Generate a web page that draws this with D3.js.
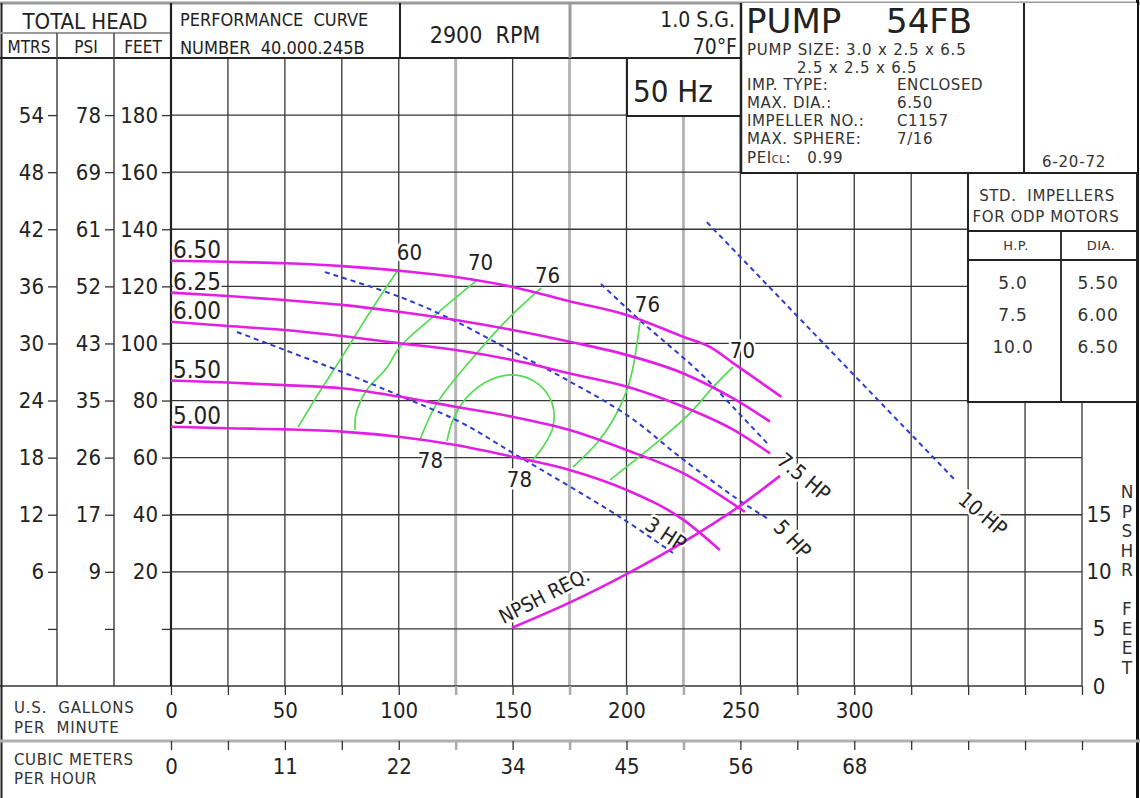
<!DOCTYPE html>
<html>
<head>
<meta charset="utf-8">
<script src="https://cdn.jsdelivr.net/npm/d3@7/dist/d3.min.js"></script>
<style>
html,body{margin:0;padding:0;background:#fff;}
svg{display:block;}
text{white-space:pre;}
</style>
</head>
<body>
<svg id="chart" width="1140" height="798"></svg>
<script>
// ---------- tick labels ----------
const gpmTicks   = [0, 50, 100, 150, 200, 250, 300];
const cmhLabels  = ["0", "11", "22", "34", "45", "56", "68"];
const feetTicks  = [20, 40, 60, 80, 100, 120, 140, 160, 180];
const mtrsLabels = ["6", "12", "18", "24", "30", "36", "42", "48", "54"];
const psiLabels  = ["9", "17", "26", "35", "43", "52", "61", "69", "78"];
const npshTicks  = [0, 5, 10, 15];

// ---------- impeller head curves [gpm, feet] ----------
const impNames = ["6.50", "6.25", "6.00", "5.50", "5.00"];
const imp650 = [[0,129],[25,128.6],[50,128.1],[75,127.1],[100,125.5],[125,123.3],[150,119.8],[175,114.8],[200,110],[225,102.3],[237,98.6],[247,93],[268,81.3]];
const imp625 = [[0,117.8],[25,116.6],[50,115.2],[75,113.5],[100,111.1],[125,108.2],[150,104.7],[175,100.6],[200,96],[225,89.5],[248,80.2],[263,72.6]];
const imp600 = [[0,107.6],[25,106.1],[50,104.7],[75,102.6],[100,100.1],[125,97.7],[150,94.2],[175,89.5],[200,84.9],[225,77.8],[247,69.7],[263,61.5]];
const imp550 = [[0,87],[25,86.3],[50,85.4],[75,84.3],[100,81.4],[125,77.8],[150,74.3],[175,69.7],[200,62.7],[225,54.5],[252,41]];
const imp500 = [[0,70.8],[25,70.3],[50,69.9],[75,69.1],[100,67.3],[125,64.4],[150,60.3],[175,55.7],[200,48.7],[225,38.2],[241,27.6]];

// ---------- efficiency contours [gpm, feet] ----------
const eff60  = [[55.8,70.7],[63.8,81.2],[75.1,95.3],[88.8,112.8],[99.1,125]];
const eff70a = [[80.8,69.7],[81.3,75.5],[85.9,83.6],[94.6,91.3],[100.5,98.8],[115,109.3],[134.4,122.2]];
const eff76a = [[109.3,66.2],[116.8,79.1],[134.4,96.7],[148.8,109.3],[162.5,119.4]];
const eff78  = [[121.2,65.8],[123.8,73.2],[130,81.2],[140.1,87.2],[150.2,89],[160.7,86.1],[167.3,79.1],[167.7,70.7],[163.3,63.7],[158.9,59.2]];
const eff76b = [[205.9,107.5],[202.9,91.8],[200.2,83.7],[194.1,73.2],[187,65.1],[176.5,56.7]];
const eff70b = [[246.8,91.8],[238,84.7],[227.9,75.6],[214.7,66.2],[192.8,52.2]];
const effLabels = [
  {t:"60", gpm:104.7, ft:129.2}, {t:"70", gpm:135.9, ft:125.7}, {t:"76", gpm:165.3, ft:121.2},
  {t:"76", gpm:209.2, ft:111.0}, {t:"70", gpm:250.9, ft:94.9},
  {t:"78", gpm:113.9, ft:56.4},  {t:"78", gpm:153.0, ft:49.7}
];

// ---------- horsepower lines [gpm, feet] ----------
const hp3  = [[29,104],[75.1,90],[101.9,81.2],[126.9,72.5],[150.2,61.6],[197.1,39.2],[220.4,26.6]];
const hp5  = [[67.6,125],[100.5,116.3],[123.8,108.2],[148.8,97.7],[173.9,87.2],[201.5,74.2],[223.5,60.2],[251.2,44.1],[263,38.2]];
const hp75 = [[188.8,120.8],[207.2,107.2],[232.3,89.7],[246.8,77.7],[261.7,65.1]];
const hp10 = [[235.3,142.5],[289.3,97.7],[344.2,52.2]];
const hpLabels = [
  {t:"3 HP",   gpm:216.9, ft:32.9, a:33},
  {t:"5 HP",   gpm:272.5, ft:31.1, a:47},
  {t:"7.5 HP", gpm:277.5, ft:52.9, a:40},
  {t:"10 HP",  gpm:356.1, ft:39.9, a:40}
];

// ---------- NPSH required [gpm, npsh feet] ----------
const npshReq = [[149.7,5.1],[175,7.3],[200,9.8],[225,12.6],[250,15.8],[267.4,18.4]];

// ---------- header / table text ----------
const pumpInfoLabels = ["IMP. TYPE:", "MAX. DIA.:", "IMPELLER NO.:", "MAX. SPHERE:"];
const pumpInfoValues = ["ENCLOSED", "6.50", "C1157", "7/16"];
const stdHP  = ["5.0", "7.5", "10.0"];
const stdDia = ["5.50", "6.00", "6.50"];

// =====================================================
const COND = '"DejaVu Sans Condensed","DejaVu Sans",sans-serif';
const WIDE = '"DejaVu Sans",sans-serif';
const INK = "#222";
const MAG = "#e21fe2", GRN = "#52dc52", BLU = "#2b3ccf";

const svg = d3.select("#chart");
svg.append("rect").attr("width",1140).attr("height",798).attr("fill","#fff");

const x  = d3.scaleLinear().domain([0,400]).range([171,1082]);
const y  = d3.scaleLinear().domain([-20,200]).range([686,58]);
const yN = d3.scaleLinear().domain([0,20]).range([686,457.6]);

function ln(g,x1,y1,x2,y2,col,w){
  return g.append("line").attr("x1",x1).attr("y1",y1).attr("x2",x2).attr("y2",y2)
    .attr("stroke",col).attr("stroke-width",w);
}
function txt(g,s,xx,yy,size,opt={}){
  const t = g.append("text").attr("x",xx).attr("y",yy).text(s)
    .attr("font-family",opt.fam||COND).attr("font-size",size).attr("fill",opt.fill||INK)
    .attr("text-anchor",opt.anchor||"start").attr("xml:space","preserve");
  if(opt.ls) t.attr("letter-spacing",opt.ls);
  return t;
}

// ---------- grid ----------
const grid = svg.append("g");
const heavy = [125,175,225];
d3.range(25,401,25).forEach(g=>{
  const px = x(g);
  const top = px < 745 ? y(200) : (px < 960 ? y(160) : y(80));
  const hv = heavy.includes(g);
  ln(grid,px,top,px,y(-20),hv?"#b5b5b5":"#363636",hv?3:1.3);
});
d3.range(-20,200,20).forEach(f=>{
  const py = y(f);
  const right = f>=180 ? x(250) : (f>=100 ? x(350) : x(400));
  const left = f===-20 ? 0 : x(0);
  ln(grid,left,py,right,py,"#363636",f===-20?1.6:1.3);
});

// ---------- frame ----------
const fr = svg.append("g");
ln(fr,0,3,1140,3,"#9a9a9a",3);
ln(fr,1.5,3,1.5,798,"#222",2);
ln(fr,1137.5,0,1137.5,798,"#111",3);
ln(fr,0,33,171,33,"#9a9a9a",2);
ln(fr,0,58,741,58,"#222",1.8);
ln(fr,57,33,57,686,"#444",1.5);
ln(fr,114,33,114,686,"#444",1.5);
ln(fr,171,3,171,686,"#222",2.2);
ln(fr,400,3,400,58,"#222",2);
ln(fr,570,3,570,58,"#9a9a9a",3);
ln(fr,0,741,1140,741,"#b0b0b0",3);
fr.append("rect").attr("x",627).attr("y",58).attr("width",114).attr("height",58)
  .attr("fill","#fff").attr("stroke","#222").attr("stroke-width",2);
fr.append("rect").attr("x",741).attr("y",3).attr("width",396).attr("height",170)
  .attr("fill","#fff").attr("stroke","none");
ln(fr,741,3,741,173,"#222",2.5);
ln(fr,1024,3,1024,173,"#222",2);
ln(fr,741,173,1137,173,"#222",2);
fr.append("rect").attr("x",968).attr("y",173).attr("width",169).attr("height",229)
  .attr("fill","#fff").attr("stroke","#222").attr("stroke-width",2);
ln(fr,968,231,1137,231,"#222",1.8);
ln(fr,968,260,1137,260,"#222",1.8);
ln(fr,1061,231,1061,402,"#222",1.8);

// ---------- axes ----------
function styleAxis(g,size){
  g.select(".domain").remove();
  g.selectAll("text").attr("font-family",COND).attr("font-size",size).attr("fill",INK);
  g.selectAll("line").attr("stroke","#333").attr("stroke-width",1.3);
}
const leftVals = [0,...feetTicks];
[[57,mtrsLabels],[114,psiLabels],[171,feetTicks.map(String)]].forEach(([xp,labs])=>{
  const ax = d3.axisLeft(y).tickValues(leftVals).tickSize(9).tickPadding(4)
    .tickFormat((d,i)=> i===0 ? "" : labs[i-1]);
  const g = svg.append("g").attr("transform",`translate(${xp},0)`).call(ax);
  styleAxis(g,22);
});
const bottomVals = d3.range(0,401,25);
const axG = d3.axisBottom(x).tickValues(bottomVals).tickSize(9).tickPadding(7)
  .tickFormat(d=> gpmTicks.includes(d) ? String(d) : "");
const gG = svg.append("g").attr("transform","translate(0,686)").call(axG);
styleAxis(gG,22);
const axC = d3.axisBottom(x).tickValues(bottomVals).tickSize(9).tickPadding(8)
  .tickFormat(d=> { const i = gpmTicks.indexOf(d); return i>=0 ? cmhLabels[i] : ""; });
const gC = svg.append("g").attr("transform","translate(0,741)").call(axC);
styleAxis(gC,22);
[gG,gC].forEach(g=> g.selectAll(".tick").filter(d=>heavy.includes(d))
  .select("line").attr("stroke","#aaa").attr("stroke-width",2.5));

const axN = d3.axisRight(yN).tickValues(npshTicks).tickSize(0).tickPadding(17)
  .tickFormat(d=>String(d));
const gN = svg.append("g").attr("transform",`translate(${x(400)},0)`).call(axN);
styleAxis(gN,22);
gN.selectAll("text").attr("text-anchor","middle");

// ---------- header texts ----------
const tx = svg.append("g");
txt(tx,"TOTAL HEAD",85,29,22,{anchor:"middle"});
txt(tx,"MTRS",29,53,17,{anchor:"middle"});
txt(tx,"PSI",86,53,17,{anchor:"middle"});
txt(tx,"FEET",143,53,17,{anchor:"middle"});
txt(tx,"PERFORMANCE  CURVE",180,26,18);
txt(tx,"NUMBER  40.000.245B",180,54,18);
txt(tx,"2900  RPM",485,43,23,{anchor:"middle"});
txt(tx,"1.0 S.G.",735,27,21,{anchor:"end"});
txt(tx,"70°F",737,54,21,{anchor:"end"});
txt(tx,"50 Hz",633,102,31);
txt(tx,"PUMP",746,33,34,{fam:WIDE});
txt(tx,"54FB",886,33,34,{fam:WIDE});
txt(tx,"PUMP SIZE: 3.0 x 2.5 x 6.5",747,55,15,{fam:WIDE,ls:0.8,fill:"#333"});
txt(tx,"2.5 x 2.5 x 6.5",797,73,15,{fam:WIDE,ls:0.8,fill:"#333"});
pumpInfoLabels.forEach((s,i)=>{
  txt(tx,s,747,90+i*18,15,{fam:WIDE,ls:0.6,fill:"#333"});
  txt(tx,pumpInfoValues[i],897,90+i*18,15,{fam:WIDE,ls:0.6,fill:"#333"});
});
const pei = txt(tx,"PEI",747,163,15,{fam:WIDE,ls:0.6,fill:"#333"});
pei.append("tspan").attr("font-size",10).text("CL");
pei.append("tspan").text(":   0.99");
txt(tx,"6-20-72",1074,167,15,{fam:WIDE,ls:0.8,fill:"#333",anchor:"middle"});

txt(tx,"STD.  IMPELLERS",1047,201,15,{fam:WIDE,ls:0.6,fill:"#333",anchor:"middle"});
txt(tx,"FOR ODP MOTORS",1046,222,15,{fam:WIDE,ls:0.6,fill:"#333",anchor:"middle"});
txt(tx,"H.P.",1016,250,13,{fam:WIDE,ls:0.5,fill:"#333",anchor:"middle"});
txt(tx,"DIA.",1101,250,13,{fam:WIDE,ls:0.5,fill:"#333",anchor:"middle"});
stdHP.forEach((s,i)=>{
  txt(tx,s,1013,289+i*32,17,{fam:WIDE,ls:0.8,fill:"#333",anchor:"middle"});
  txt(tx,stdDia[i],1098,289+i*32,17,{fam:WIDE,ls:0.8,fill:"#333",anchor:"middle"});
});

txt(tx,"U.S.  GALLONS",14,713,15,{fam:WIDE,ls:0.8,fill:"#333"});
txt(tx,"PER  MINUTE",14,733,15,{fam:WIDE,ls:0.8,fill:"#333"});
txt(tx,"CUBIC METERS",14,765,15,{fam:WIDE,ls:0.6,fill:"#333"});
txt(tx,"PER HOUR",14,784,15,{fam:WIDE,ls:0.6,fill:"#333"});

const vt = "NPSHR".split("").concat(["",..."FEET".split("")]);
vt.forEach((c,i)=>{ if(c) txt(tx,c,1127,498+i*19.5,17,{fam:WIDE,anchor:"middle",fill:"#333"}); });

// ---------- labels with halos ----------
const halo = svg.append("g");
const labelsG = svg.append("g");
function plotLabel(s,xx,yy,size,anchor,rot){
  [halo,labelsG].forEach((g,k)=>{
    const t = txt(g,s,xx,yy,size,{anchor});
    if(rot!==undefined) t.attr("transform",`rotate(${rot},${xx},${yy})`).attr("dominant-baseline","middle");
    if(k===0) t.attr("stroke","#fff").attr("stroke-width",5).attr("fill","#fff").attr("stroke-linejoin","round");
  });
}
[imp650,imp625,imp600,imp550,imp500].forEach((c,i)=>{
  plotLabel(impNames[i],x(0)+2,y(c[0][1])-3,24,"start");
});
effLabels.forEach(d=> plotLabel(d.t,x(d.gpm),y(d.ft),22,"middle"));
hpLabels.forEach(d=> plotLabel(d.t,x(d.gpm),y(d.ft),21,"middle",d.a));
plotLabel("NPSH REQ.",x(164.2),yN(7.8),20,"middle",-27);

// ---------- curves ----------
const curvesG = svg.append("g").attr("fill","none");
const lineMono = d3.line().x(d=>x(d[0])).y(d=>y(d[1])).curve(d3.curveMonotoneX);
const lineCR = d3.line().x(d=>x(d[0])).y(d=>y(d[1])).curve(d3.curveCatmullRom.alpha(0.5));
[eff60,eff70a,eff76a,eff78,eff76b,eff70b].forEach(c=>{
  curvesG.append("path").attr("d",lineCR(c)).attr("stroke",GRN).attr("stroke-width",1.7);
});
[hp3,hp5,hp75,hp10].forEach(c=>{
  curvesG.append("path").attr("d",lineCR(c)).attr("stroke",BLU).attr("stroke-width",2)
    .attr("stroke-dasharray","5,4");
});
[imp650,imp625,imp600,imp550,imp500].forEach(c=>{
  curvesG.append("path").attr("d",lineMono(c)).attr("stroke",MAG).attr("stroke-width",2.6);
});
const lineN = d3.line().x(d=>x(d[0])).y(d=>yN(d[1])).curve(d3.curveMonotoneX);
curvesG.append("path").attr("d",lineN(npshReq)).attr("stroke",MAG).attr("stroke-width",2.6);
labelsG.raise();
</script>
</body>
</html>
